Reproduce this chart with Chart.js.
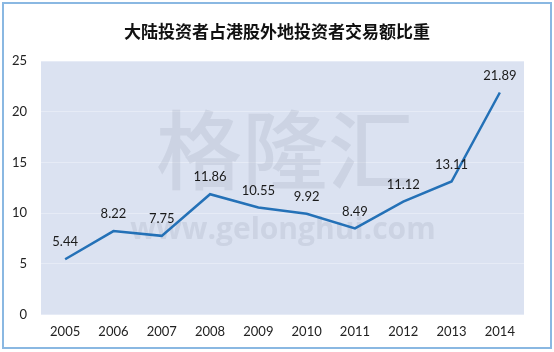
<!DOCTYPE html>
<html>
<head>
<meta charset="utf-8">
<script src="https://cdn.jsdelivr.net/npm/chart.js@4"></script>
<style>
  html, body { margin: 0; padding: 0; background: #fff; }
  #wrap { width: 554px; height: 352px; }
</style>
</head>
<body>
<div id="wrap"><canvas id="ratioChart" width="554" height="352"></canvas></div>
<script>
// 大陆投资者占港股外地投资者交易额比重 (%)
var years = ['2005', '2006', '2007', '2008', '2009', '2010', '2011', '2012', '2013', '2014'];
var shares = [5.44, 8.22, 7.75, 11.86, 10.55, 9.92, 8.49, 11.12, 13.11, 21.89];
var yTicks = [0, 5, 10, 15, 20, 25];
var chartTitle = '大陆投资者占港股外地投资者交易额比重';

var tickFont = { family: 'Lato, "Open Sans", sans-serif', size: 13 };

// fundo azul claro da área do gráfico, moldura e marca d'água
var fundoPlugin = {
    id: 'fundo',
    beforeDraw: function(chart) {
        var ctx = chart.ctx, a = chart.chartArea;
        ctx.save();
        ctx.fillStyle = '#fff';
        ctx.fillRect(0, 0, chart.width, chart.height);
        ctx.strokeStyle = '#8ab8e2';
        ctx.lineWidth = 2;
        ctx.strokeRect(3, 3, chart.width - 6, chart.height - 7);
        ctx.fillStyle = '#dbe2f1';
        ctx.fillRect(a.left, a.top, a.right - a.left, a.bottom - a.top);
        ctx.restore();
    },
    beforeDatasetsDraw: function(chart) {
        var ctx = chart.ctx;
        ctx.save();
        ctx.fillStyle = 'rgba(150, 160, 178, 0.22)';
        ctx.textAlign = 'center';
        ctx.textBaseline = 'middle';
        ctx.font = '500 86px "Noto Sans CJK SC"';
        ctx.fillText('格隆汇', 285, 150);
        ctx.font = 'bold 30px "Open Sans", sans-serif';
        ctx.fillText('www.gelonghui.com', 283, 230);
        ctx.restore();
    },
    afterDraw: function(chart) {
        var ctx = chart.ctx;
        ctx.save();
        ctx.fillStyle = '#111';
        ctx.textAlign = 'center';
        ctx.textBaseline = 'middle';
        ctx.font = 'bold 17px "Noto Sans CJK SC"';
        ctx.fillText(chartTitle, 277, 32);
        ctx.restore();
    }
};

// rótulos de valor acima de cada ponto
var rotulosPlugin = {
    id: 'rotulos',
    afterDatasetsDraw: function(chart) {
        var ctx = chart.ctx;
        var meta = chart.getDatasetMeta(0);
        ctx.save();
        ctx.fillStyle = '#1a1a1a';
        ctx.font = '13px Lato, "Open Sans", sans-serif';
        ctx.textAlign = 'center';
        ctx.textBaseline = 'middle';
        meta.data.forEach(function(pt, i) {
            ctx.fillText(shares[i].toFixed(2), pt.x, pt.y - 17);
        });
        ctx.restore();
    }
};

new Chart(document.getElementById('ratioChart'), {
    type: 'line',
    data: {
        labels: years,
        datasets: [{
            data: shares,
            borderColor: '#2471b7',
            borderWidth: 2.5,
            pointRadius: 0,
            tension: 0,
            fill: false
        }]
    },
    options: {
        responsive: false,
        animation: false,
        devicePixelRatio: 1,
        layout: { padding: { top: 61, right: 30, bottom: 2, left: 0 } },
        plugins: {
            legend: { display: false },
            title: { display: false },
            tooltip: { enabled: false }
        },
        scales: {
            x: {
                offset: true,
                grid: { display: false, drawTicks: false },
                border: { display: false },
                ticks: { color: '#222', font: tickFont, padding: 10, maxRotation: 0 }
            },
            y: {
                min: 0,
                max: 25,
                afterFit: function(scale) { scale.width = 41; },
                afterBuildTicks: function(scale) {
                    scale.ticks = yTicks.map(function(v) { return { value: v }; });
                },
                grid: { color: '#e6ebf6', lineWidth: 1, drawTicks: false },
                border: { display: false },
                ticks: { color: '#222', font: tickFont, padding: 14 }
            }
        }
    },
    plugins: [fundoPlugin, rotulosPlugin]
});
</script>
</body>
</html>
